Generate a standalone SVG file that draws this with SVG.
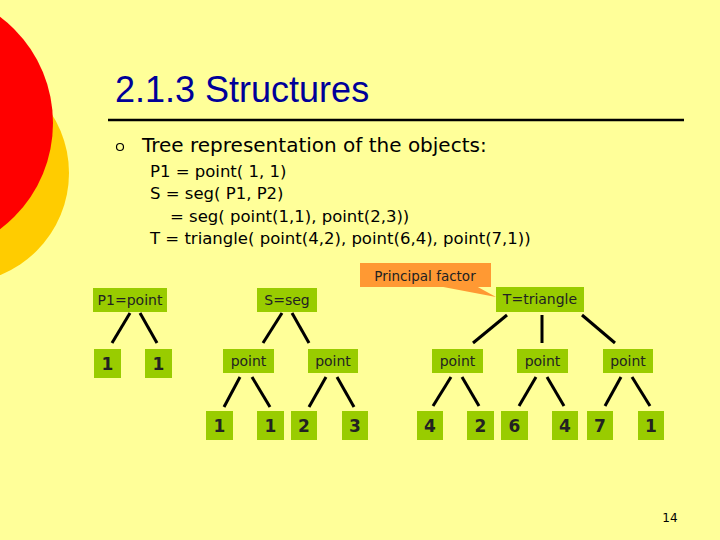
<svg xmlns="http://www.w3.org/2000/svg" width="720" height="540" viewBox="0 0 720 540">
<style>
.n{fill:#99cc00}
.t{font-family:"DejaVu Sans",Verdana,sans-serif;font-size:14px;fill:#222;text-anchor:middle}
.d{font-family:"DejaVu Sans",Verdana,sans-serif;font-size:17px;font-weight:bold;fill:#222;text-anchor:middle}
.c line{stroke:#000;stroke-width:3}
.b{font-family:"DejaVu Sans",Tahoma,sans-serif;font-size:16.5px;fill:#000}
</style>
<rect width="720" height="540" fill="#ffff99"/>
<circle cx="-41" cy="173" r="110" fill="#ffcc00"/>
<circle cx="-80" cy="123" r="133" fill="#ff0000"/>
<text x="115" y="102" font-family="Liberation Sans,Arial,sans-serif" font-size="36" fill="#000099">2.1.3 Structures</text>
<line x1="108" y1="120" x2="684" y2="120" stroke="#000" stroke-width="2.5"/>
<circle cx="120" cy="147" r="3.5" fill="none" stroke="#000" stroke-width="1.2"/>
<text x="142" y="152" font-family="DejaVu Sans,Verdana,sans-serif" font-size="20" fill="#000">Tree representation of the objects:</text>
<text class="b" x="150" y="177">P1 = point( 1, 1)</text>
<text class="b" x="150" y="199">S = seg( P1, P2)</text>
<text class="b" x="170" y="222">= seg( point(1,1), point(2,3))</text>
<text class="b" x="150" y="244">T = triangle( point(4,2), point(6,4), point(7,1))</text>
<g id="callout">
<polygon points="438,286 476,286 496,297" fill="#ff9933"/>
<rect x="360" y="263" width="131" height="24" fill="#ff9933"/>
<text x="425" y="281" font-family="DejaVu Sans,Tahoma,sans-serif" font-size="13.5" fill="#222" text-anchor="middle">Principal factor</text>
</g>
<g class="c" id="connectors">
<line x1="130" y1="313" x2="112" y2="343"/>
<line x1="140" y1="313" x2="157" y2="343"/>
<line x1="282" y1="313" x2="263" y2="343"/>
<line x1="292" y1="313" x2="309" y2="343"/>
<line x1="240" y1="377" x2="224" y2="407"/>
<line x1="252" y1="377" x2="270" y2="407"/>
<line x1="326" y1="377" x2="309" y2="407"/>
<line x1="337" y1="377" x2="354" y2="407"/>
<line x1="507" y1="315" x2="473" y2="343"/>
<line x1="542" y1="315" x2="542" y2="343"/>
<line x1="582" y1="315" x2="615" y2="343"/>
<line x1="451" y1="377" x2="433" y2="406"/>
<line x1="462" y1="377" x2="479" y2="406"/>
<line x1="536" y1="377" x2="519" y2="406"/>
<line x1="547" y1="377" x2="564" y2="406"/>
<line x1="621" y1="377" x2="605" y2="406"/>
<line x1="632" y1="377" x2="650" y2="406"/>
</g>
<g id="P1"><rect class="n" x="93" y="288" width="74" height="24"/><text class="t" x="130" y="305">P1=point</text></g>
<g id="S"><rect class="n" x="257" y="288" width="60" height="24"/><text class="t" x="287" y="305">S=seg</text></g>
<g id="T"><rect class="n" x="496" y="287" width="88" height="25"/><text class="t" x="540" y="304">T=triangle</text></g>
<g id="p1a"><rect class="n" x="94" y="349" width="27" height="29"/><text class="d" x="107.5" y="370">1</text></g>
<g id="p1b"><rect class="n" x="145" y="349" width="27" height="29"/><text class="d" x="158.5" y="370">1</text></g>
<g id="sp1"><rect class="n" x="223" y="349" width="51" height="24"/><text class="t" x="248.5" y="366">point</text></g>
<g id="sp2"><rect class="n" x="308" y="349" width="50" height="24"/><text class="t" x="333" y="366">point</text></g>
<g id="tp1"><rect class="n" x="432" y="349" width="51" height="24"/><text class="t" x="457.5" y="366">point</text></g>
<g id="tp2"><rect class="n" x="517" y="349" width="51" height="24"/><text class="t" x="542.5" y="366">point</text></g>
<g id="tp3"><rect class="n" x="603" y="349" width="50" height="24"/><text class="t" x="628" y="366">point</text></g>
<g id="l1"><rect class="n" x="206" y="411" width="27" height="29"/><text class="d" x="219.5" y="432">1</text></g>
<g id="l2"><rect class="n" x="257" y="411" width="27" height="29"/><text class="d" x="270.5" y="432">1</text></g>
<g id="l3"><rect class="n" x="291" y="411" width="26" height="29"/><text class="d" x="304" y="432">2</text></g>
<g id="l4"><rect class="n" x="342" y="411" width="26" height="29"/><text class="d" x="355" y="432">3</text></g>
<g id="l5"><rect class="n" x="417" y="411" width="26" height="29"/><text class="d" x="430" y="432">4</text></g>
<g id="l6"><rect class="n" x="467" y="411" width="27" height="29"/><text class="d" x="480.5" y="432">2</text></g>
<g id="l7"><rect class="n" x="501" y="411" width="27" height="29"/><text class="d" x="514.5" y="432">6</text></g>
<g id="l8"><rect class="n" x="552" y="411" width="26" height="29"/><text class="d" x="565" y="432">4</text></g>
<g id="l9"><rect class="n" x="587" y="411" width="26" height="29"/><text class="d" x="600" y="432">7</text></g>
<g id="l10"><rect class="n" x="638" y="411" width="26" height="29"/><text class="d" x="651" y="432">1</text></g>
<text x="670" y="522" font-family="DejaVu Sans,Verdana,sans-serif" font-size="12" fill="#000" text-anchor="middle">14</text>
</svg>
